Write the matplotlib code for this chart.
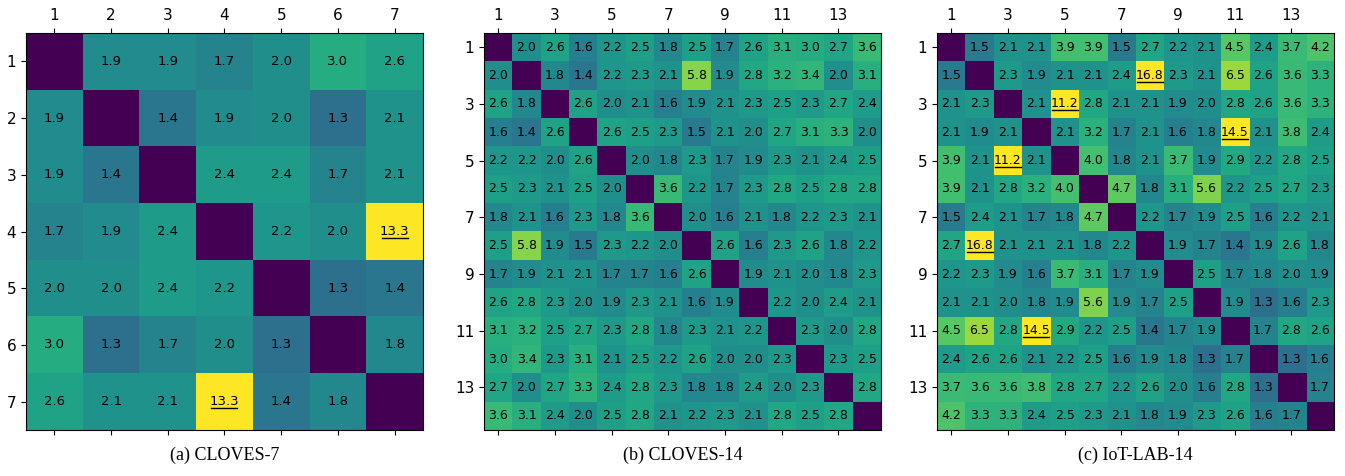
import numpy as np
import matplotlib
matplotlib.use("Agg")
import matplotlib.pyplot as plt
from matplotlib.colors import LogNorm

# diagonal cells are left empty (nan)
n = np.nan
cloves7 = [
    [n, 1.9, 1.9, 1.7, 2.0, 3.0, 2.6],
    [1.9, n, 1.4, 1.9, 2.0, 1.3, 2.1],
    [1.9, 1.4, n, 2.4, 2.4, 1.7, 2.1],
    [1.7, 1.9, 2.4, n, 2.2, 2.0, 13.3],
    [2.0, 2.0, 2.4, 2.2, n, 1.3, 1.4],
    [3.0, 1.3, 1.7, 2.0, 1.3, n, 1.8],
    [2.6, 2.1, 2.1, 13.3, 1.4, 1.8, n],
]

cloves14 = [
    [n, 2.0, 2.6, 1.6, 2.2, 2.5, 1.8, 2.5, 1.7, 2.6, 3.1, 3.0, 2.7, 3.6],
    [2.0, n, 1.8, 1.4, 2.2, 2.3, 2.1, 5.8, 1.9, 2.8, 3.2, 3.4, 2.0, 3.1],
    [2.6, 1.8, n, 2.6, 2.0, 2.1, 1.6, 1.9, 2.1, 2.3, 2.5, 2.3, 2.7, 2.4],
    [1.6, 1.4, 2.6, n, 2.6, 2.5, 2.3, 1.5, 2.1, 2.0, 2.7, 3.1, 3.3, 2.0],
    [2.2, 2.2, 2.0, 2.6, n, 2.0, 1.8, 2.3, 1.7, 1.9, 2.3, 2.1, 2.4, 2.5],
    [2.5, 2.3, 2.1, 2.5, 2.0, n, 3.6, 2.2, 1.7, 2.3, 2.8, 2.5, 2.8, 2.8],
    [1.8, 2.1, 1.6, 2.3, 1.8, 3.6, n, 2.0, 1.6, 2.1, 1.8, 2.2, 2.3, 2.1],
    [2.5, 5.8, 1.9, 1.5, 2.3, 2.2, 2.0, n, 2.6, 1.6, 2.3, 2.6, 1.8, 2.2],
    [1.7, 1.9, 2.1, 2.1, 1.7, 1.7, 1.6, 2.6, n, 1.9, 2.1, 2.0, 1.8, 2.3],
    [2.6, 2.8, 2.3, 2.0, 1.9, 2.3, 2.1, 1.6, 1.9, n, 2.2, 2.0, 2.4, 2.1],
    [3.1, 3.2, 2.5, 2.7, 2.3, 2.8, 1.8, 2.3, 2.1, 2.2, n, 2.3, 2.0, 2.8],
    [3.0, 3.4, 2.3, 3.1, 2.1, 2.5, 2.2, 2.6, 2.0, 2.0, 2.3, n, 2.3, 2.5],
    [2.7, 2.0, 2.7, 3.3, 2.4, 2.8, 2.3, 1.8, 1.8, 2.4, 2.0, 2.3, n, 2.8],
    [3.6, 3.1, 2.4, 2.0, 2.5, 2.8, 2.1, 2.2, 2.3, 2.1, 2.8, 2.5, 2.8, n],
]

iotlab14 = [
    [n, 1.5, 2.1, 2.1, 3.9, 3.9, 1.5, 2.7, 2.2, 2.1, 4.5, 2.4, 3.7, 4.2],
    [1.5, n, 2.3, 1.9, 2.1, 2.1, 2.4, 16.8, 2.3, 2.1, 6.5, 2.6, 3.6, 3.3],
    [2.1, 2.3, n, 2.1, 11.2, 2.8, 2.1, 2.1, 1.9, 2.0, 2.8, 2.6, 3.6, 3.3],
    [2.1, 1.9, 2.1, n, 2.1, 3.2, 1.7, 2.1, 1.6, 1.8, 14.5, 2.1, 3.8, 2.4],
    [3.9, 2.1, 11.2, 2.1, n, 4.0, 1.8, 2.1, 3.7, 1.9, 2.9, 2.2, 2.8, 2.5],
    [3.9, 2.1, 2.8, 3.2, 4.0, n, 4.7, 1.8, 3.1, 5.6, 2.2, 2.5, 2.7, 2.3],
    [1.5, 2.4, 2.1, 1.7, 1.8, 4.7, n, 2.2, 1.7, 1.9, 2.5, 1.6, 2.2, 2.1],
    [2.7, 16.8, 2.1, 2.1, 2.1, 1.8, 2.2, n, 1.9, 1.7, 1.4, 1.9, 2.6, 1.8],
    [2.2, 2.3, 1.9, 1.6, 3.7, 3.1, 1.7, 1.9, n, 2.5, 1.7, 1.8, 2.0, 1.9],
    [2.1, 2.1, 2.0, 1.8, 1.9, 5.6, 1.9, 1.7, 2.5, n, 1.9, 1.3, 1.6, 2.3],
    [4.5, 6.5, 2.8, 14.5, 2.9, 2.2, 2.5, 1.4, 1.7, 1.9, n, 1.7, 2.8, 2.6],
    [2.4, 2.6, 2.6, 2.1, 2.2, 2.5, 1.6, 1.9, 1.8, 1.3, 1.7, n, 1.3, 1.6],
    [3.7, 3.6, 3.6, 3.8, 2.8, 2.7, 2.2, 2.6, 2.0, 1.6, 2.8, 1.3, n, 1.7],
    [4.2, 3.3, 3.3, 2.4, 2.5, 2.3, 2.1, 1.8, 1.9, 2.3, 2.6, 1.6, 1.7, n],
]

captions = ["(a) CLOVES-7", "(b) CLOVES-14", "(c) IoT-LAB-14"]
tick_steps = [1, 2, 2]
cell_fonts = [9.5, 9, 9]

cmap = plt.get_cmap("viridis").copy()
cmap.set_bad(cmap(0.0))
norm = LogNorm(vmin=0.38, vmax=10.7, clip=True)

fig = plt.figure(figsize=(13.45, 4.76), dpi=100)
lefts = [26, 484, 937]
size = 397

for k, mat in enumerate([cloves7, cloves14, iotlab14]):
    data = np.array(mat, dtype=float)
    m = data.shape[0]
    px = m / size  # data units per pixel
    ax = fig.add_axes([lefts[k] / 1345, (476 - 430) / 476, size / 1345, size / 476])
    ax.imshow(data, cmap=cmap, norm=norm, aspect="auto")
    for i in range(m):
        for j in range(m):
            v = data[i, j]
            if np.isnan(v):
                continue
            ax.text(j, i, f"{v:.1f}", ha="center", va="center",
                    fontsize=cell_fonts[k], color="black")
            if v >= 10:
                # highlight the large ones with an underline
                ax.plot([j - 13 * px, j + 13 * px], [i + 6.5 * px, i + 6.5 * px],
                        color="black", lw=1.0)
    ticks = np.arange(0, m, tick_steps[k])
    ax.set_xticks(ticks)
    ax.set_yticks(ticks)
    ax.set_xticklabels([str(t + 1) for t in ticks])
    ax.set_yticklabels([str(t + 1) for t in ticks])
    ax.tick_params(top=True, labeltop=True, bottom=True, labelbottom=False,
                   left=True, labelleft=True, right=False, labelsize=11)
    ax.set_xlim(-0.5, m - 0.5)
    ax.set_ylim(m - 0.5, -0.5)
    fig.text((lefts[k] + size / 2) / 1345, 1 - 455 / 476, captions[k],
             ha="center", va="center", fontsize=13, family="Liberation Serif")

fig.savefig("out.png", dpi=100)
